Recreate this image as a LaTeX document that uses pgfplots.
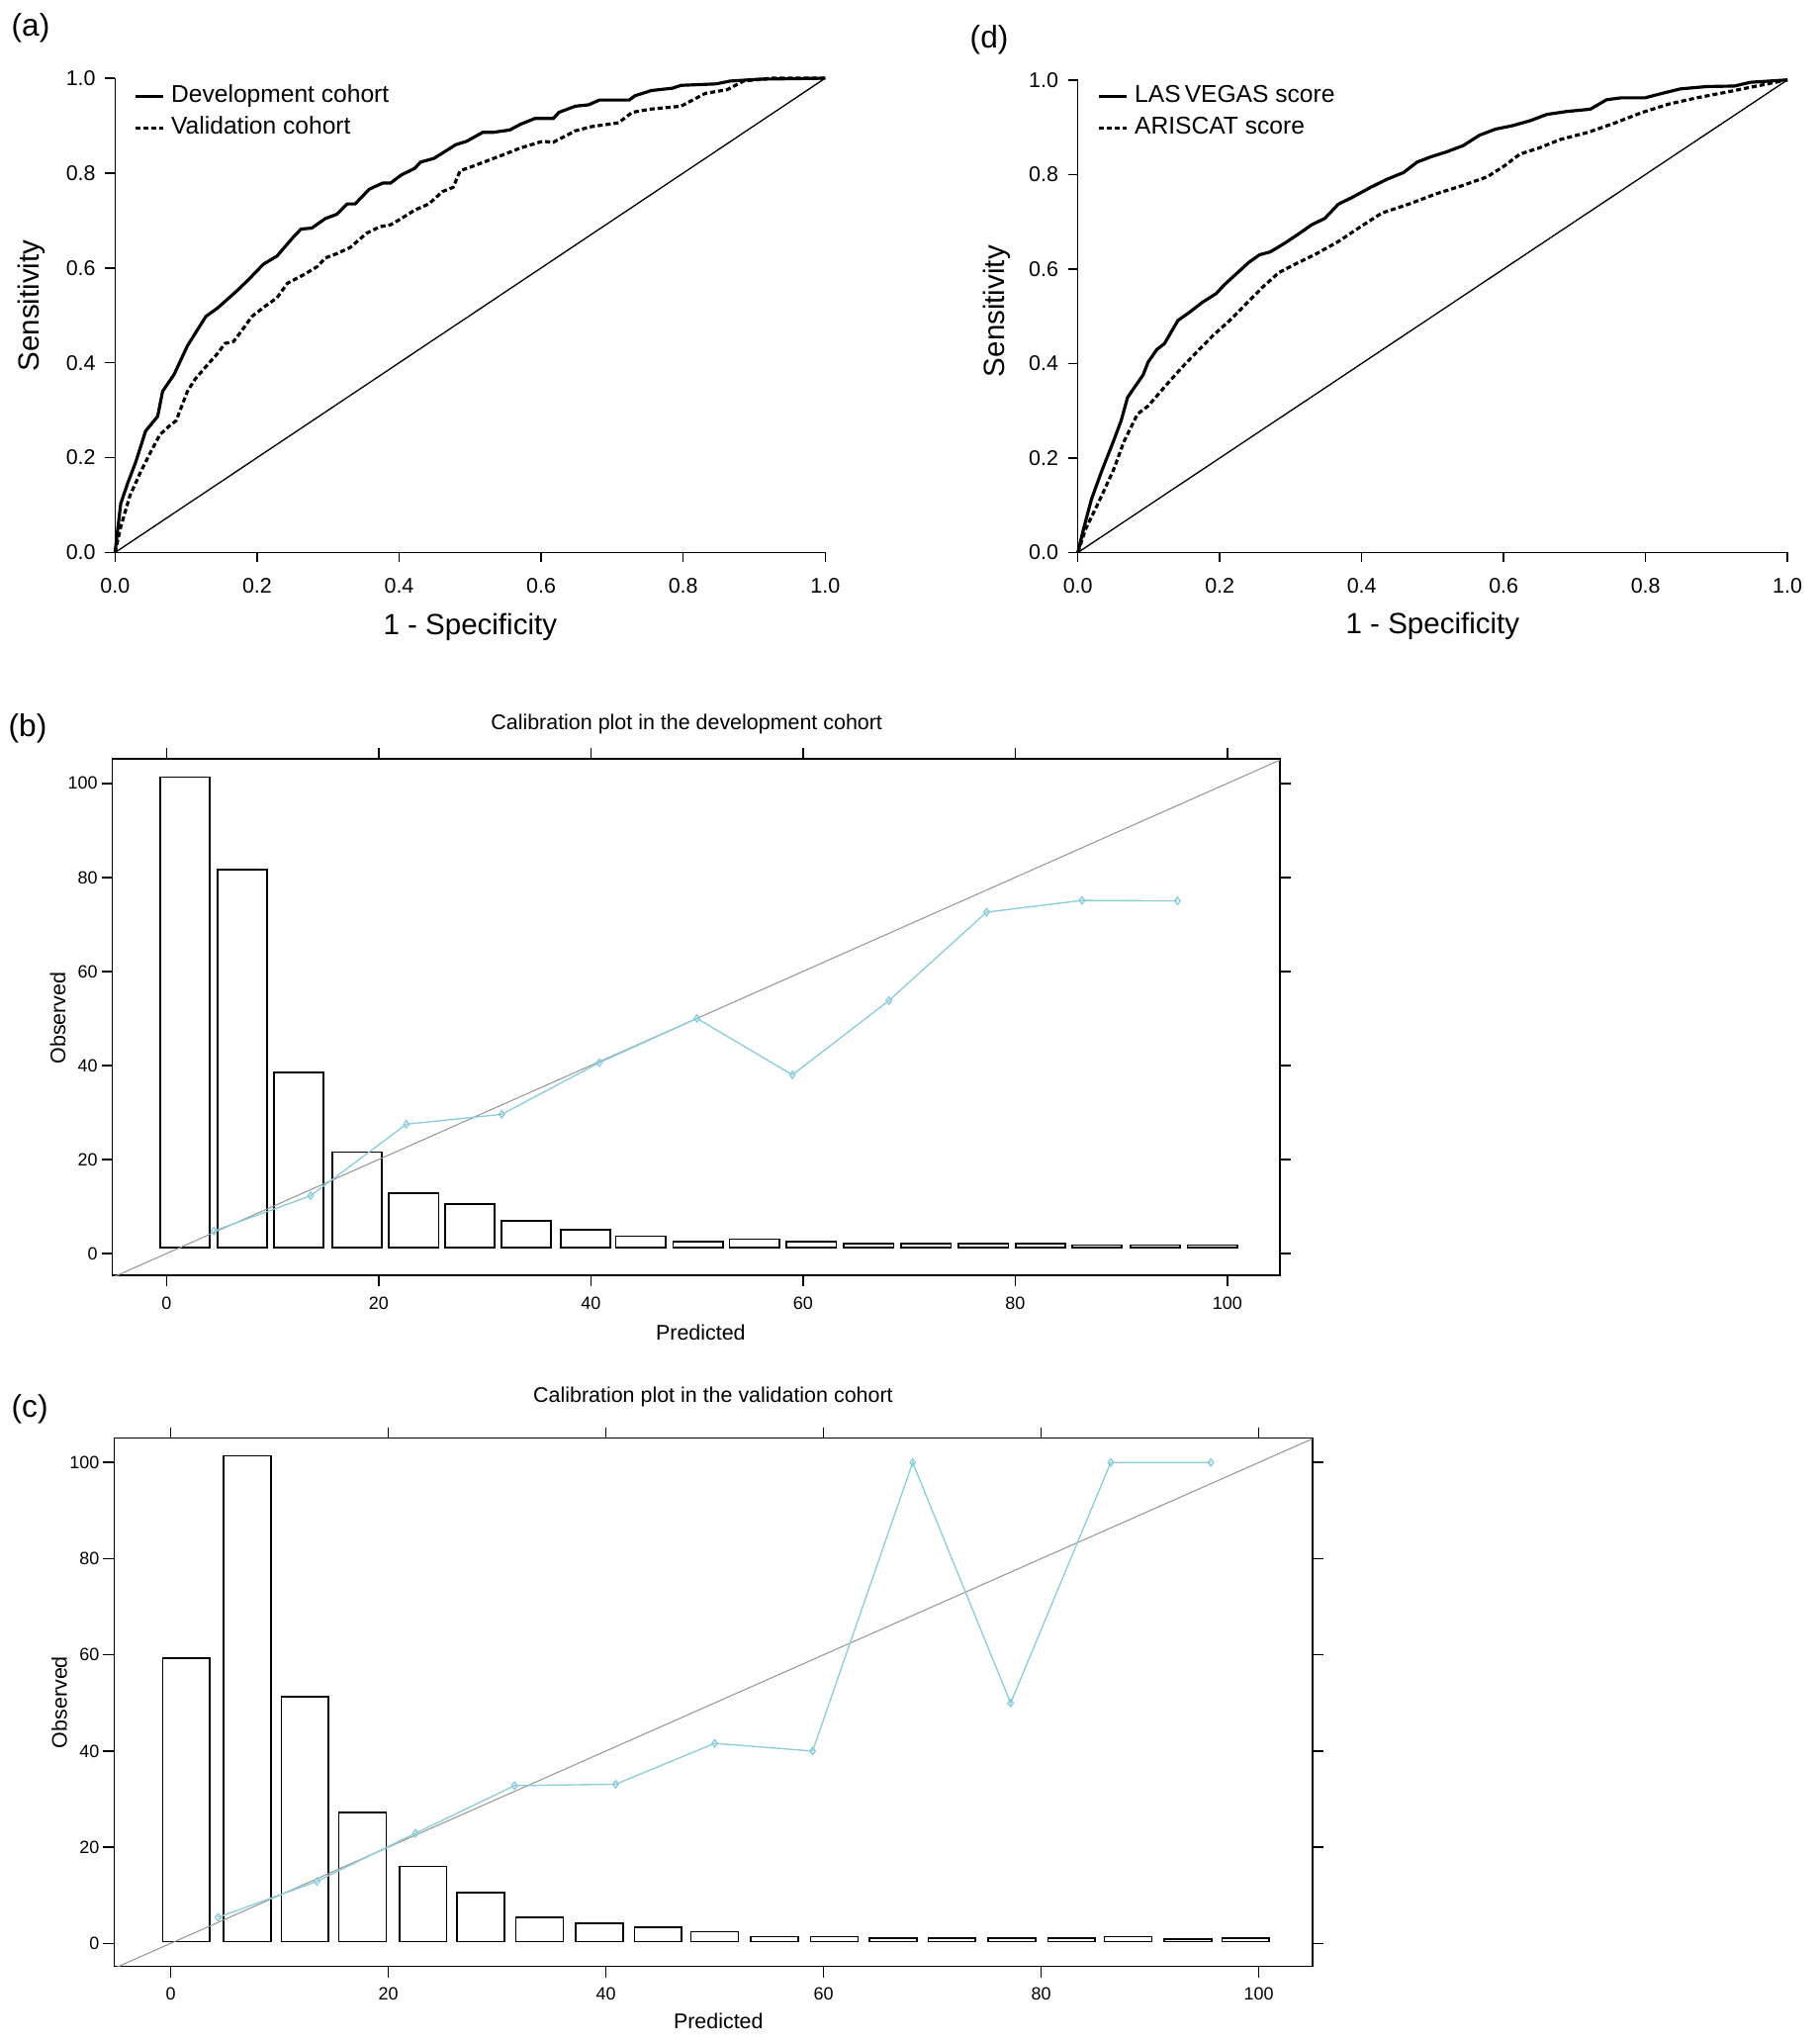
\documentclass[border=0pt]{standalone}
\usepackage{fontspec}
\setmainfont{Liberation Sans}
\usepackage{pgfplots}
\pgfplotsset{compat=1.18}
\definecolor{calblue}{RGB}{140,205,219}
\definecolor{diaggray}{RGB}{150,150,150}
\newcommand\tickA{\fontsize{6.1pt}{7pt}\selectfont}
\newcommand\labA{\fontsize{8.4pt}{10pt}\selectfont}
\newcommand\legA{\fontsize{7pt}{8.4pt}\selectfont}
\newcommand\tickB{\fontsize{5.1pt}{6pt}\selectfont}
\newcommand\labB{\fontsize{6.1pt}{7.3pt}\selectfont}
\newcommand\panel{\fontsize{9pt}{10.8pt}\selectfont}
\pgfplotsset{
  rocstyle/.style={
    scale only axis, clip=false,
    xmin=0, xmax=1, ymin=0, ymax=1,
    axis x line*=bottom, axis y line*=left,
    axis line style={line width=0.42pt,-},
    tick align=outside, major tick length=0.1cm,
    every tick/.style={black, line width=0.42pt},
    xtick={0,0.2,0.4,0.6,0.8,1}, ytick={0,0.2,0.4,0.6,0.8,1},
    xticklabels={0.0,0.2,0.4,0.6,0.8,1.0}, yticklabels={0.0,0.2,0.4,0.6,0.8,1.0},
    tick label style={font=\tickA, inner sep=0pt},
    xticklabel style={anchor=north, yshift=-0.155cm},
    yticklabel style={anchor=east, xshift=-0.09cm},
    legend style={draw=none, fill=none, inner sep=0pt, outer sep=0pt, font=\legA,
      row sep=0.09cm, nodes={inner sep=0pt},
      /tikz/every odd column/.append style={column sep=0.07cm}},
    legend cell align=left,
    legend image code/.code={\draw[##1] (0cm,0cm) -- (0.28cm,0cm);},
  },
  calstyle/.style={
    scale only axis,
    axis line style={line width=0.45pt},
    tick align=outside, tick pos=both, major tick length=0.11cm,
    every tick/.style={black, line width=0.45pt},
    xtick={0,20,40,60,80,100}, ytick={0,20,40,60,80,100},
    xticklabels={0,20,40,60,80,100}, yticklabels={0,20,40,60,80,100},
    xticklabel pos=bottom, yticklabel pos=left,
    tick label style={font=\tickB, inner sep=0pt},
    xticklabel style={anchor=north, yshift=-0.097cm},
    yticklabel style={anchor=east, xshift=-0.033cm},
  },
  barstyle/.style={
    scale only axis, hide axis, clip=false, ybar,
  },
}
\begin{document}
\begin{tikzpicture}
\useasboundingbox (0,0) rectangle (18.40cm,20.65cm);

% ---------------- (a) ----------------
\begin{axis}[rocstyle, at={(1.163cm,15.065cm)}, anchor=south west, width=7.18cm, height=4.794cm,
  xlabel={1 - Specificity}, ylabel={Sensitivity},
  every axis x label/.style={at={(axis description cs:0.5,-0.1736)}, anchor=base, font=\labA, inner sep=0pt},
  every axis y label/.style={at={(axis description cs:-0.1063,0.5204)}, rotate=90, anchor=base, font=\labA, inner sep=0pt},
  legend style={at={(axis description cs:0.026,0.986)}, anchor=north west}]
\addplot[black, line width=0.38pt, forget plot] coordinates {(0,0) (1,1)};
\addplot[black, line width=0.9pt] coordinates {
(0,0) (0.008,0.103) (0.018,0.147) (0.029,0.19) (0.043,0.256) (0.06,0.287) (0.067,0.34) (0.083,0.375)
(0.102,0.436) (0.128,0.498) (0.144,0.515) (0.174,0.555) (0.189,0.577) (0.209,0.608) (0.228,0.625)
(0.251,0.665) (0.262,0.682) (0.277,0.684) (0.296,0.704) (0.312,0.713) (0.327,0.735) (0.338,0.735)
(0.358,0.766) (0.377,0.779) (0.388,0.779) (0.403,0.796) (0.422,0.81) (0.43,0.823) (0.449,0.831)
(0.464,0.845) (0.48,0.86) (0.495,0.867) (0.518,0.886) (0.533,0.886) (0.556,0.891) (0.571,0.903)
(0.591,0.915) (0.617,0.915) (0.625,0.928) (0.648,0.941) (0.667,0.944) (0.682,0.954) (0.724,0.954)
(0.732,0.963) (0.755,0.974) (0.785,0.979) (0.797,0.985) (0.846,0.988) (0.866,0.994) (0.908,0.998) (1,1)};
\addlegendentry{Development cohort}
\addplot[black, line width=0.9pt, dash pattern=on 1.45pt off 0.85pt] coordinates {
(0,0) (0.008,0.054) (0.021,0.12) (0.037,0.173) (0.052,0.217) (0.063,0.248) (0.075,0.265) (0.086,0.278)
(0.102,0.34) (0.113,0.366) (0.128,0.392) (0.144,0.419) (0.155,0.441) (0.167,0.445) (0.178,0.467)
(0.193,0.498) (0.212,0.52) (0.228,0.537) (0.243,0.568) (0.266,0.586) (0.285,0.603) (0.296,0.621)
(0.312,0.63) (0.331,0.643) (0.354,0.673) (0.373,0.687) (0.388,0.691) (0.403,0.704) (0.422,0.722)
(0.442,0.735) (0.461,0.761) (0.476,0.77) (0.486,0.805) (0.503,0.814) (0.526,0.827) (0.549,0.84)
(0.571,0.853) (0.602,0.867) (0.617,0.865) (0.648,0.889) (0.671,0.898) (0.709,0.906) (0.728,0.928)
(0.755,0.935) (0.797,0.941) (0.831,0.968) (0.862,0.976) (0.885,0.994) (0.923,1.0) (1,1)};
\addlegendentry{Validation cohort}
\end{axis}

% ---------------- (d) ----------------
\begin{axis}[rocstyle, at={(10.897cm,15.065cm)}, anchor=south west, width=7.174cm, height=4.777cm,
  xlabel={1 - Specificity}, ylabel={Sensitivity},
  every axis x label/.style={at={(axis description cs:0.5,-0.1727)}, anchor=base, font=\labA, inner sep=0pt},
  every axis y label/.style={at={(axis description cs:-0.1041,0.5104)}, rotate=90, anchor=base, font=\labA, inner sep=0pt},
  legend style={at={(axis description cs:0.0269,0.9876)}, anchor=north west}]
\addplot[black, line width=0.38pt, forget plot] coordinates {(0,0) (1,1)};
\addplot[black, line width=0.9pt] coordinates {
(0,0) (0.008,0.05) (0.019,0.112) (0.034,0.174) (0.05,0.235) (0.061,0.279) (0.07,0.328) (0.08,0.35)
(0.092,0.376) (0.099,0.403) (0.111,0.429) (0.122,0.442) (0.141,0.491) (0.157,0.508) (0.176,0.53)
(0.195,0.548) (0.206,0.566) (0.222,0.588) (0.241,0.614) (0.256,0.63) (0.271,0.636) (0.291,0.654)
(0.313,0.676) (0.329,0.693) (0.348,0.707) (0.367,0.737) (0.386,0.751) (0.413,0.773) (0.436,0.79)
(0.459,0.804) (0.478,0.826) (0.497,0.837) (0.52,0.848) (0.543,0.861) (0.566,0.883) (0.589,0.896)
(0.612,0.903) (0.638,0.914) (0.661,0.927) (0.688,0.933) (0.722,0.938) (0.745,0.958) (0.765,0.962)
(0.799,0.962) (0.822,0.971) (0.849,0.981) (0.887,0.986) (0.925,0.987) (0.948,0.995) (1,1)};
\addlegendentry{LAS\,VEGAS score}
\addplot[black, line width=0.9pt, dash pattern=on 1.45pt off 0.85pt] coordinates {
(0,0) (0.011,0.05) (0.031,0.112) (0.05,0.174) (0.065,0.235) (0.084,0.293) (0.099,0.31) (0.122,0.35)
(0.145,0.389) (0.168,0.425) (0.191,0.46) (0.214,0.491) (0.237,0.526) (0.26,0.561) (0.283,0.592)
(0.306,0.61) (0.336,0.632) (0.367,0.658) (0.398,0.689) (0.428,0.718) (0.466,0.737) (0.505,0.759)
(0.543,0.777) (0.577,0.795) (0.6,0.817) (0.623,0.843) (0.65,0.856) (0.68,0.874) (0.719,0.889)
(0.757,0.909) (0.795,0.931) (0.833,0.949) (0.872,0.962) (0.917,0.975) (0.963,0.989) (1,1)};
\addlegendentry{ARISCAT score}
\end{axis}

% ---------------- (b) bars (drawn from the base line at 1.26) ----------------
\begin{axis}[barstyle, at={(1.136cm,7.757cm)}, anchor=south west, width=11.803cm, height=5.22cm,
  xmin=-5.11, xmax=104.95, ymin=-5.95, ymax=103.9]
\addplot[ybar, bar width=4.7, draw=black, fill=none, line width=0.47pt] coordinates {
(1.73,100.1) (7.15,80.4) (12.45,37.3) (17.95,20.3) (23.3,11.6) (28.6,9.2) (33.9,5.7) (39.5,3.8)
(44.7,2.4) (50.1,1.3) (55.4,1.8) (60.8,1.3) (66.2,0.8) (71.6,0.8) (77.0,0.8) (82.4,0.8)
(87.7,0.5) (93.2,0.5) (98.6,0.5)};
\end{axis}
\begin{axis}[calstyle, at={(1.136cm,7.757cm)}, anchor=south west, width=11.803cm, height=5.22cm,
  xmin=-5.11, xmax=104.95, ymin=-4.69, ymax=105.16,
  title={Calibration plot in the development cohort}, xlabel={Predicted}, ylabel={Observed},
  every axis title/.style={at={(axis description cs:0.4919,1.0575)}, anchor=base, font=\labB, inner sep=0pt},
  every axis x label/.style={at={(axis description cs:0.5039,-0.1245)}, anchor=base, font=\labB, inner sep=0pt},
  every axis y label/.style={at={(axis description cs:-0.0403,0.4987)}, rotate=90, anchor=base, font=\labB, inner sep=0pt}]
\addplot[diaggray, line width=0.3pt] coordinates {(-10,-10) (110,110)};
\addplot[calblue, line width=0.38pt, mark=diamond, mark size=1.05pt, mark options={solid}] coordinates {
(4.47,4.8) (13.58,12.3) (22.6,27.5) (31.6,29.6) (40.8,40.6) (50.0,50.0) (59.0,38.0) (68.1,53.8)
(77.3,72.6) (86.3,75.1) (95.3,75.0)};
\end{axis}

% ---------------- (c) bars (drawn from the base line at 0.35) ----------------
\begin{axis}[barstyle, at={(1.154cm,0.775cm)}, anchor=south west, width=12.118cm, height=5.338cm,
  xmin=-5.19, xmax=104.97, ymin=-5.12, ymax=104.71]
\addplot[ybar, bar width=4.35, draw=black, fill=none, line width=0.47pt] coordinates {
(1.44,58.95) (7.03,101.05) (12.35,50.95) (17.64,26.85) (23.2,15.65) (28.5,10.15) (33.9,5.05) (39.4,3.85)
(44.8,2.95) (50.0,2.05) (55.5,1.05) (61.0,1.05) (66.4,0.75) (71.8,0.75) (77.3,0.75) (82.8,0.75)
(88.0,1.05) (93.5,0.55) (98.8,0.75)};
\end{axis}
\begin{axis}[calstyle, at={(1.154cm,0.775cm)}, anchor=south west, width=12.118cm, height=5.338cm,
  xmin=-5.19, xmax=104.97, ymin=-4.77, ymax=105.06,
  title={Calibration plot in the validation cohort}, xlabel={Predicted}, ylabel={Observed},
  every axis title/.style={at={(axis description cs:0.4997,1.0674)}, anchor=base, font=\labB, inner sep=0pt},
  every axis x label/.style={at={(axis description cs:0.5041,-0.118)}, anchor=base, font=\labB, inner sep=0pt},
  every axis y label/.style={at={(axis description cs:-0.0395,0.5)}, rotate=90, anchor=base, font=\labB, inner sep=0pt}]
\addplot[diaggray, line width=0.3pt] coordinates {(-10,-10) (110,110)};
\addplot[calblue, line width=0.38pt, mark=diamond, mark size=1.05pt, mark options={solid}] coordinates {
(4.36,5.4) (13.45,12.9) (22.5,22.9) (31.6,32.8) (40.9,33.1) (50.0,41.6) (59.0,40.0) (68.2,100.0)
(77.2,50.0) (86.4,100.0) (95.6,100.0)};
\end{axis}

% panel letters
\node[font=\panel, anchor=base west, inner sep=0pt] at (0.11cm,20.28cm) {(a)};
\node[font=\panel, anchor=base west, inner sep=0pt] at (9.80cm,20.16cm) {(d)};
\node[font=\panel, anchor=base west, inner sep=0pt] at (0.08cm,13.20cm) {(b)};
\node[font=\panel, anchor=base west, inner sep=0pt] at (0.11cm,6.32cm) {(c)};
\end{tikzpicture}
\end{document}
